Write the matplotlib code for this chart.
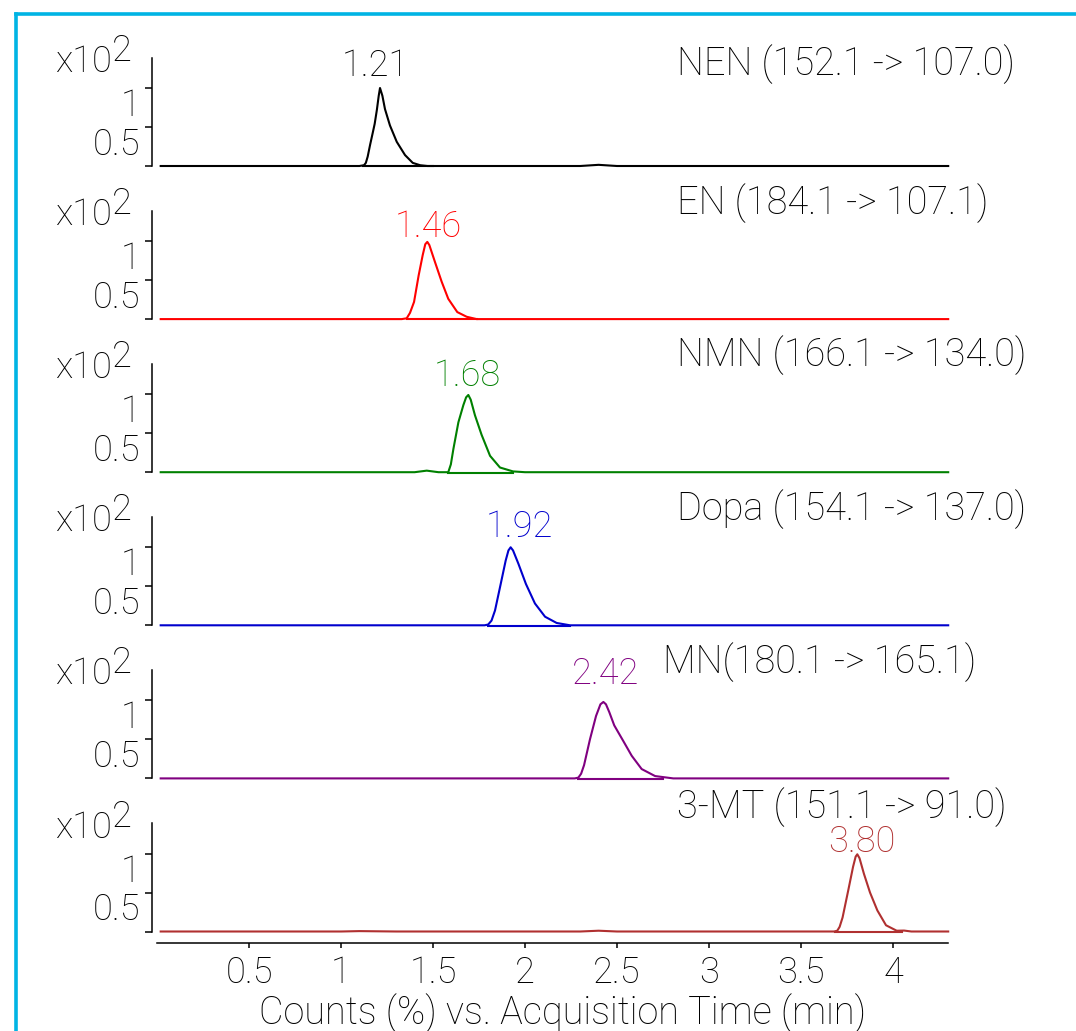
import matplotlib
matplotlib.use("Agg")
import matplotlib.pyplot as plt
from matplotlib.lines import Line2D

plt.rcParams['font.family'] = ['Roboto', 'DejaVu Sans']
plt.rcParams['font.weight'] = 'light'
plt.rcParams['axes.labelweight'] = 'light'

# traces: retention time (min) and normalised counts (x10^2)
names = ["NEN (152.1 -> 107.0)", "EN (184.1 -> 107.1)", "NMN (166.1 -> 134.0)",
         "Dopa (154.1 -> 137.0)", "MN(180.1 -> 165.1)", "3-MT (151.1 -> 91.0)"]
colors = ["black", "#ff0000", "#008000", "#0000cd", "#800080", "#b03030"]
apex = ["1.21", "1.46", "1.68", "1.92", "2.42", "3.80"]

nen_t = [0.02, 1.10, 1.125, 1.135, 1.145, 1.158, 1.172, 1.183, 1.195, 1.205, 1.212, 1.225,
         1.239, 1.266, 1.303, 1.348, 1.39, 1.43, 1.47, 2.30, 2.40, 2.50, 4.30]
nen_v = [0, 0, 0.01, 0.04, 0.12, 0.27, 0.42, 0.54, 0.72, 0.90, 1.0, 0.90,
         0.73, 0.52, 0.31, 0.14, 0.04, 0.01, 0, 0, 0.015, 0, 0]

en_t = [0.02, 1.33, 1.357, 1.375, 1.397, 1.422, 1.444, 1.458, 1.469, 1.48, 1.511, 1.547,
        1.583, 1.632, 1.683, 1.737, 4.30]
en_v = [0, 0, 0.01, 0.08, 0.22, 0.56, 0.82, 0.96, 0.99, 0.95, 0.73, 0.48,
        0.26, 0.09, 0.03, 0, 0]

nmn_t = [0.02, 1.40, 1.466, 1.53, 1.583, 1.597, 1.611, 1.638, 1.665, 1.68, 1.692, 1.705,
         1.728, 1.764, 1.81, 1.864, 1.935, 2.0, 4.30]
nmn_v = [0, 0, 0.02, 0, 0, 0.10, 0.30, 0.64, 0.86, 0.96, 0.99, 0.93,
         0.73, 0.48, 0.21, 0.06, 0.01, 0, 0]

dopa_t = [0.02, 1.78, 1.80, 1.818, 1.837, 1.868, 1.895, 1.91, 1.922, 1.935, 1.964, 2.005,
          2.054, 2.109, 2.172, 2.245, 4.30]
dopa_v = [0, 0, 0.01, 0.06, 0.19, 0.53, 0.83, 0.96, 1.0, 0.96, 0.79, 0.53,
          0.28, 0.11, 0.03, 0, 0]

mn_t = [0.02, 2.27, 2.29, 2.305, 2.321, 2.353, 2.386, 2.41, 2.426, 2.44, 2.458, 2.485,
        2.507, 2.534, 2.58, 2.634, 2.707, 2.806, 4.30]
mn_v = [0, 0, 0.01, 0.06, 0.17, 0.50, 0.80, 0.95, 0.98, 0.95, 0.85, 0.68,
        0.59, 0.48, 0.29, 0.12, 0.03, 0, 0]

mt_t = [0.02, 1.0, 1.1, 1.3, 2.3, 2.4, 2.5, 3.68, 3.697, 3.71, 3.726, 3.757, 3.783, 3.797,
        3.806, 3.818, 3.842, 3.875, 3.915, 3.962, 4.02, 4.06, 4.10, 4.30]
mt_v = [0, 0, 0.005, 0, 0, 0.01, 0, 0, 0.01, 0.06, 0.18, 0.53, 0.83, 0.96,
        0.99, 0.94, 0.74, 0.50, 0.27, 0.08, 0.01, 0.012, 0, 0]

times = [nen_t, en_t, nmn_t, dopa_t, mn_t, mt_t]
counts = [nen_v, en_v, nmn_v, dopa_v, mn_v, mt_v]

# integration baseline start/end (min)
base_start = [1.12, 1.357, 1.583, 1.80, 2.29, 3.685]
base_end = [1.50, 1.737, 1.935, 2.245, 2.75, 4.05]

# annotation positions (time, counts)
apex_x = [1.185, 1.473, 1.6875, 1.97, 2.4375, 3.832]
apex_y = [1.154, 1.05, 1.106, 1.128, 1.209, 1.013]
title_x = [2.826, 2.826, 2.826, 2.826, 2.75, 2.826]
title_y = [1.17, 1.346, 1.363, 1.346, 1.35, 1.46]

xticks = [0.5, 1, 1.5, 2, 2.5, 3, 3.5, 4]
xticklabels = ["0.5", "1", "1.5", "2", "2.5", "3", "3.5", "4"]

W, H = 1076, 1031
fig = plt.figure(figsize=(W / 100, H / 100), dpi=100)
fs = 26

for i in range(6):
    base_px = 166 + 153.1 * i
    ax = fig.add_axes([157 / W, 1 - base_px / H, 4.3 * 184 / W, 1.4 * 78 / H])
    ax.plot(times[i], counts[i], color=colors[i], lw=1.5, clip_on=False)
    ax.plot([base_start[i], base_end[i]], [-0.005, -0.005], color=colors[i], lw=1.5,
            clip_on=False)
    ax.set_xlim(0, 4.3)
    ax.set_ylim(0, 1.4)
    ax.patch.set_visible(False)
    for s in ["top", "right"]:
        ax.spines[s].set_visible(False)
    ax.spines["left"].set_position(("outward", 3.6))
    ax.spines["left"].set_bounds(0, 1.385)
    ax.spines["left"].set_linewidth(1.1)
    ax.set_yticks([0, 0.5, 1])
    ax.set_yticklabels(["", "0.5", "1"])
    ax.tick_params(axis="y", length=5, width=1.1, pad=3.5, labelsize=fs)
    for lab in ax.get_yticklabels():
        lab.set_va("top")
    ax.text(-0.245, 1.205, "x10", ha="right", va="baseline", fontsize=fs)
    ax.text(-0.245, 1.346, "2", ha="left", va="baseline", fontsize=fs)
    ax.text(apex_x[i], apex_y[i], apex[i], ha="center", va="baseline", fontsize=fs,
            color=colors[i])
    ax.text(title_x[i], title_y[i], names[i], ha="left", va="baseline", fontsize=27.3)
    if i < 5:
        ax.spines["bottom"].set_visible(False)
        ax.set_xticks([])
    else:
        ax.spines["bottom"].set_position(("outward", 8.6))
        ax.spines["bottom"].set_linewidth(1.1)
        ax.set_xticks(xticks)
        ax.set_xticklabels(xticklabels)
        ax.tick_params(axis="x", length=3.6, width=1.1, pad=5, labelsize=fs)
        ax.set_xlabel("Counts (%) vs. Acquisition Time (min)", fontsize=27.3)
        ax.xaxis.set_label_coords(0.512, -0.56)
        ax.xaxis.label.set_va("top")

# cyan frame
cyan = "#00b4e4"
fig.add_artist(Line2D([16 / W, 16 / W], [0, 1 - 14 / H], color=cyan, lw=2.6))
fig.add_artist(Line2D([16 / W, 1], [1 - 14 / H, 1 - 14 / H], color=cyan, lw=2.6))

fig.savefig("out.png", dpi=100)
